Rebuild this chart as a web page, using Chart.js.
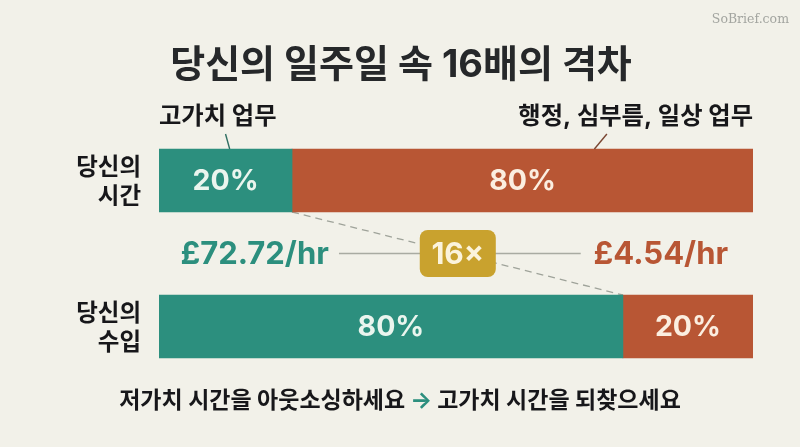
<!DOCTYPE html>
<html lang="ko"><head><meta charset="utf-8">
<style>html,body{margin:0;padding:0;background:#f2f1e9}canvas{display:block}</style>
<script src="https://cdn.jsdelivr.net/npm/chart.js@4/dist/chart.umd.min.js"></script>
</head><body>
<div style="width:800px;height:447px"><canvas id="c"></canvas></div>
<script>
const categories = [["당신의","시간"],["당신의","수입"]];
const tealValues = [22.4, 78.1];
const rustValues = [77.6, 21.9];
const tealLabels = ["20%","80%"];
const rustLabels = ["80%","20%"];
const titleText = "당신의 일주일 속 16배의 격차";
const leftCallout = "고가치 업무";
const rightCallout = "행정, 심부름, 일상 업무";
const leftRate = "£72.72/hr";
const rightRate = "£4.54/hr";
const multiple = "16×";
const footerA = "저가치 시간을 아웃소싱하세요";
const footerArrow = "→";
const footerB = "고가치 시간을 되찾으세요";
const watermark = "SoBrief.com";

const TEAL="#2c8f7e", RUST="#b85634", GOLD="#c9a22e", INK="#17171a", SANS='Inter,"Noto Sans CJK KR",sans-serif';

const overlay = {
  id:"overlay",
  beforeDatasetsDraw(ch){
    const {ctx}=ch, x=ch.scales.x, y=ch.scales.y;
    const mid=y.getPixelForValue(0.5);
    const t=ch.getDatasetMeta(0).data;
    ctx.save();
    ctx.strokeStyle="#9fa39a"; ctx.lineWidth=1.3; ctx.setLineDash([7,5]);
    ctx.beginPath();
    ctx.moveTo(t[0].x,t[0].y+t[0].height/2);
    ctx.lineTo(t[1].x,t[1].y-t[1].height/2);
    ctx.stroke();
    ctx.restore();
    ctx.save();
    ctx.strokeStyle="#a9aba2"; ctx.lineWidth=1.3;
    ctx.beginPath();
    ctx.moveTo(x.getPixelForValue(30.3),mid);
    ctx.lineTo(x.getPixelForValue(71),mid);
    ctx.stroke();
    ctx.restore();
  },
  afterDatasetsDraw(ch){
    const {ctx}=ch, x=ch.scales.x, y=ch.scales.y;
    const mid=y.getPixelForValue(0.5);
    const t=ch.getDatasetMeta(0).data, r=ch.getDatasetMeta(1).data;
    const top=t[0].y-t[0].height/2;
    ctx.save();
    ctx.textBaseline="middle";
    // title
    ctx.textAlign="center"; ctx.font='700 38px '+SANS; ctx.fillStyle="#26282a";
    ctx.fillText(titleText,ch.width/2+1,66);
    // bar labels
    ctx.font='700 28.5px '+SANS;
    ctx.fillStyle="#eaf5ee";
    t.forEach((b,i)=>ctx.fillText(tealLabels[i],(b.base+b.x)/2,b.y+0.5));
    ctx.fillStyle="#fbeee0";
    r.forEach((b,i)=>ctx.fillText(rustLabels[i],(b.base+b.x)/2,b.y+0.5));
    // leader ticks
    ctx.lineWidth=1.4; ctx.strokeStyle="#2f6f62";
    ctx.beginPath(); ctx.moveTo(x.getPixelForValue(11.9),top); ctx.lineTo(x.getPixelForValue(11.2),top-15); ctx.stroke();
    ctx.strokeStyle="#7a4632";
    ctx.beginPath(); ctx.moveTo(x.getPixelForValue(73.3),top); ctx.lineTo(x.getPixelForValue(75.4),top-15); ctx.stroke();
    // callouts
    ctx.fillStyle=INK; ctx.font='700 24.3px '+SANS;
    ctx.textAlign="left"; ctx.fillText(leftCallout,x.getPixelForValue(0),top-32);
    ctx.textAlign="right"; ctx.fillText(rightCallout,x.getPixelForValue(100),top-32);
    // rates
    ctx.font='700 31px '+SANS;
    ctx.textAlign="left"; ctx.fillStyle=TEAL; ctx.fillText(leftRate,x.getPixelForValue(3.6),mid+1);
    ctx.textAlign="right"; ctx.fillStyle=RUST; ctx.fillText(rightRate,x.getPixelForValue(95.8),mid+1);
    // multiple badge
    const bx=x.getPixelForValue(43.9), bw=x.getPixelForValue(56.7)-bx, bh=47;
    ctx.fillStyle=GOLD; ctx.beginPath(); ctx.roundRect(bx,mid-bh/2,bw,bh,8); ctx.fill();
    ctx.fillStyle="#fbf3dc"; ctx.textAlign="center"; ctx.font='700 30px '+SANS;
    ctx.fillText(multiple,bx+bw/2,mid+1);
    // footer
    const fy=y.bottom+2;
    ctx.font='700 23px '+SANS; ctx.textAlign="left";
    const gap=5, wa=ctx.measureText(footerA).width, wb=ctx.measureText(footerB).width, wr=ctx.measureText(footerArrow).width;
    let fx=ch.width/2-(wa+wb+wr+2*gap)/2;
    ctx.fillStyle=INK; ctx.fillText(footerA,fx,fy); fx+=wa+gap;
    ctx.fillStyle=TEAL; ctx.fillText(footerArrow,fx,fy); fx+=wr+gap;
    ctx.fillStyle=INK; ctx.fillText(footerB,fx,fy);
    // watermark
    ctx.font='12.5px "DejaVu Serif"'; ctx.fillStyle="#a3a5a0"; ctx.textAlign="right";
    ctx.fillText(watermark,ch.width-11,20);
    ctx.restore();
  }
};

new Chart(document.getElementById("c"),{
  type:"bar",
  data:{labels:categories,datasets:[
    {data:tealValues,backgroundColor:TEAL,borderWidth:0,barThickness:63},
    {data:rustValues,backgroundColor:RUST,borderWidth:0,barThickness:63}
  ]},
  plugins:[overlay],
  options:{
    indexAxis:"y",responsive:true,maintainAspectRatio:false,animation:false,
    layout:{padding:{left:0,right:47,top:107.5,bottom:47.5}},
    plugins:{legend:{display:false},tooltip:{enabled:false},title:{display:false}},
    scales:{
      x:{stacked:true,min:0,max:100,display:false},
      y:{stacked:true,grid:{display:false,drawTicks:false},border:{display:false},
        ticks:{color:INK,padding:18,labelOffset:2,font:{family:SANS,size:23.5,weight:"700",lineHeight:1.2},autoSkip:false},
        afterFit(s){s.width=159;}}
    }
  }
});
</script>
</body></html>
